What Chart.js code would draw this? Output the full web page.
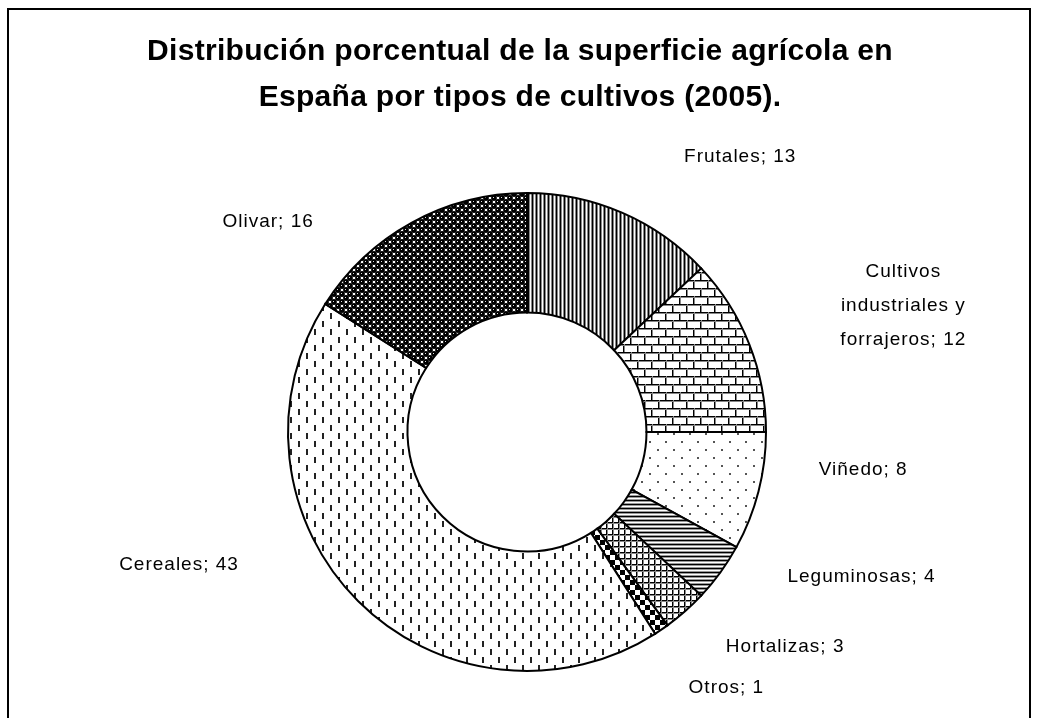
<!DOCTYPE html>
<html>
<head>
<meta charset="utf-8">
<script src="https://cdn.jsdelivr.net/npm/chart.js@4"></script>
<style>
  body { margin: 0; background: #fff; }
  #wrap { width: 1037px; height: 718px; }
</style>
</head>
<body>
<div id="wrap"><canvas id="grafico" width="1037" height="718"></canvas></div>
<script>
// datos (clockwise desde arriba)
const categorias = ['Frutales', ['Cultivos', 'industriales y', 'forrajeros'], 'Viñedo', 'Leguminosas', 'Hortalizas', 'Otros', 'Cereales', 'Olivar'];
const valores = [13, 12, 8, 4, 3, 1, 43, 16];
const titulo = ['Distribución porcentual de la superficie agrícola en', 'España por tipos de cultivos (2005).'];

// ajuste de la posicion de cada etiqueta respecto al punto radial
const ajusteEtiquetas = [[102, -18], [116, -23], [65, -32], [108, -20], [73, 5], [42, 24], [-150, -65], [-124, 35]];

function patron(w, h, dibujar) {
    const c = document.createElement('canvas');
    c.width = w; c.height = h;
    const g = c.getContext('2d');
    g.fillStyle = '#fff';
    g.fillRect(0, 0, w, h);
    dibujar(g);
    return g.createPattern(c, 'repeat');
}

const ctx = document.getElementById('grafico').getContext('2d');

const tramas = [
    // frutales: rayas verticales finas
    patron(4, 1, g => { g.fillStyle = '#000'; g.fillRect(0, 0, 1, 1); g.fillStyle = '#888'; g.fillRect(1, 0, 1, 1); g.fillRect(3, 0, 1, 1); }),
    // cultivos: ladrillos
    patron(14, 16, g => {
        g.fillStyle = '#000';
        g.fillRect(0, 0, 14, 1); g.fillRect(0, 8, 14, 1);
        g.fillRect(0, 0, 1, 8); g.fillRect(7, 8, 1, 8);
        g.fillStyle = '#888';
        g.fillRect(0, 1, 14, 1); g.fillRect(0, 9, 14, 1);
        g.fillRect(1, 0, 1, 8); g.fillRect(8, 8, 1, 8);
    }),
    // viñedo: puntos dispersos
    patron(16, 16, g => { g.fillStyle = '#555'; g.fillRect(1, 1, 2, 2); g.fillRect(9, 9, 2, 2); }),
    // leguminosas: rayas horizontales
    patron(1, 4, g => { g.fillStyle = '#000'; g.fillRect(0, 0, 1, 1); g.fillStyle = '#999'; g.fillRect(0, 1, 1, 1); g.fillRect(0, 3, 1, 1); }),
    // hortalizas: cuadricula
    patron(6, 6, g => { g.fillStyle = '#000'; g.fillRect(0, 0, 6, 1); g.fillRect(0, 0, 1, 6); g.fillStyle = '#888'; g.fillRect(0, 1, 6, 1); g.fillRect(1, 0, 1, 6); }),
    // otros: tablero
    patron(10, 10, g => { g.fillStyle = '#000'; g.fillRect(0, 0, 5, 5); g.fillRect(5, 5, 5, 5); }),
    // cereales: guiones verticales
    patron(16, 16, g => { g.fillStyle = '#222'; g.fillRect(2, 1, 2, 6); g.fillRect(10, 9, 2, 6); }),
    // olivar: esferas
    patron(8, 8, g => {
        [[2, 2], [6, 6], [6, -2], [-2, 6], [10, 2], [2, 10], [10, 10], [-2, -2]].forEach(p => {
            g.fillStyle = '#000';
            g.beginPath(); g.arc(p[0], p[1], 2.9, 0, Math.PI * 2); g.fill();
            g.fillStyle = '#ddd';
            g.fillRect(p[0] - 1, p[1] - 1, 1, 1);
        });
    })
];

const marcoYTitulo = {
    id: 'marcoYTitulo',
    beforeDraw(chart) {
        const c = chart.ctx;
        c.save();
        c.fillStyle = '#fff';
        c.fillRect(0, 0, chart.width, chart.height);
        c.strokeStyle = '#000';
        c.lineWidth = 2;
        c.strokeRect(8, 9, 1022, 730);
        c.fillStyle = '#000';
        c.font = 'bold 30px "Liberation Sans", Arial, sans-serif';
        c.letterSpacing = '0.3px';
        c.textAlign = 'center';
        c.textBaseline = 'middle';
        titulo.forEach((t, i) => c.fillText(t, 520, 52 + i * 46));
        c.restore();
    }
};

const etiquetas = {
    id: 'etiquetas',
    afterDatasetsDraw(chart) {
        const c = chart.ctx;
        const meta = chart.getDatasetMeta(0);
        c.save();
        c.fillStyle = '#000';
        c.font = '19px "Liberation Sans", Arial, sans-serif';
        c.letterSpacing = '1px';
        c.textAlign = 'center';
        c.textBaseline = 'middle';
        meta.data.forEach((arc, i) => {
            const p = arc.getProps(['x', 'y', 'startAngle', 'endAngle', 'outerRadius'], true);
            const medio = (p.startAngle + p.endAngle) / 2;
            const r = p.outerRadius + 41;
            const x = p.x + Math.cos(medio) * r + ajusteEtiquetas[i][0];
            const y = p.y + Math.sin(medio) * r + ajusteEtiquetas[i][1];
            let lineas = Array.isArray(categorias[i]) ? categorias[i].slice() : [categorias[i]];
            lineas[lineas.length - 1] += '; ' + valores[i];
            const alto = 34;
            lineas.forEach((l, k) => c.fillText(l, x, y + (k - (lineas.length - 1) / 2) * alto));
        });
        c.restore();
    }
};

new Chart(ctx, {
    type: 'doughnut',
    data: {
        labels: categorias,
        datasets: [{
            data: valores,
            backgroundColor: tramas,
            borderColor: '#000',
            borderWidth: 2,
            borderJoinStyle: 'miter'
        }]
    },
    options: {
        responsive: false,
        animation: false,
        devicePixelRatio: 1,
        cutout: '50%',
        layout: { padding: { left: 287, right: 270, top: 192, bottom: 46 } },
        plugins: {
            legend: { display: false },
            tooltip: { enabled: false },
            title: { display: false }
        }
    },
    plugins: [marcoYTitulo, etiquetas]
});
</script>
</body>
</html>
